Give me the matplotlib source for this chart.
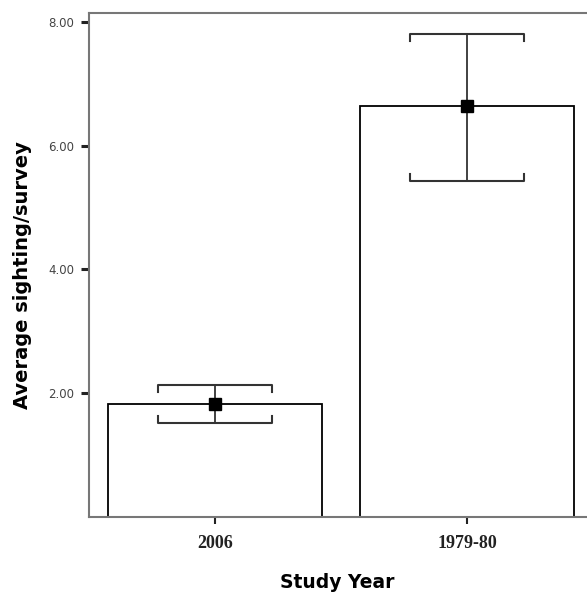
import matplotlib
matplotlib.use("Agg")
import matplotlib.pyplot as plt
import numpy as np

categories = ["2006", "1979-80"]
means = [1.82, 6.65]
upper = [2.13, 7.81]
lower = [1.51, 5.43]
yticks = [2.0, 4.0, 6.0, 8.0]
ytick_labels = ["2.00", "4.00", "6.00", "8.00"]

fig = plt.figure(figsize=(5.87, 6.0), dpi=100)
ax = fig.add_axes([89/587, 83.5/600, 504/587, 503.5/600])

x = np.arange(len(categories))
ax.bar(x, means, width=0.85, color="white", edgecolor="black", linewidth=1.3, zorder=1)

cap = 0.226
hook = 0.12
for xi, m, lo, hi in zip(x, means, lower, upper):
    ax.plot([xi, xi], [lo, hi], color="#333333", lw=1.3, zorder=2)
    ax.plot([xi - cap, xi - cap, xi + cap, xi + cap], [hi - hook, hi, hi, hi - hook],
            color="#333333", lw=1.5, zorder=2)
    ax.plot([xi - cap, xi - cap, xi + cap, xi + cap], [lo + hook, lo, lo, lo + hook],
            color="#333333", lw=1.5, zorder=2)
ax.plot(x, means, "s", color="black", markersize=8, zorder=3)

ax.set_xlim(-0.5, 1.5)
ax.set_ylim(0, 8.15)
ax.set_xticks(x)
ax.set_xticklabels(categories, family="Liberation Serif", fontweight="bold", fontsize=13, color="#222222")
ax.set_yticks(yticks)
ax.set_yticklabels(ytick_labels, family="DejaVu Sans", fontsize=8.5, color="#444444")
ax.tick_params(axis="y", direction="out", length=6, width=2.2, pad=4.5, color="#222222")
ax.tick_params(axis="x", direction="out", length=5, width=1.5, pad=8, color="#222222")
for s in ax.spines.values():
    s.set_color("#777777")
    s.set_linewidth(1.5)

ax.set_xlabel("Study Year", fontsize=13.5, fontweight="bold", family="DejaVu Sans")
ax.set_ylabel("Average sighting/survey", fontsize=14, fontweight="bold", family="DejaVu Sans")
ax.xaxis.set_label_coords(0.493, -0.132)
ax.yaxis.set_label_coords(-0.131, 0.48)
ax.xaxis.label.set_va("center")
ax.yaxis.label.set_va("center")

fig.savefig("out.png", dpi=100, facecolor="white")
